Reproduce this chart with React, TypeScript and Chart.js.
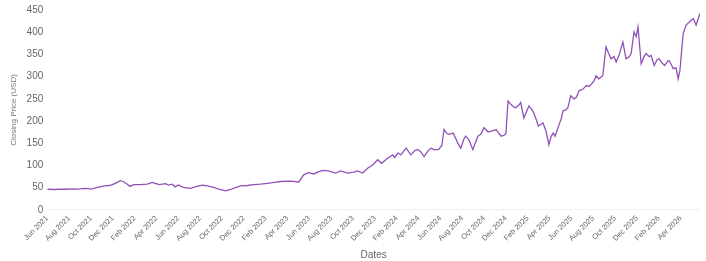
import React, { useEffect, useRef } from "react";
import { Chart, registerables } from "chart.js";

Chart.register(...registerables);

const dates: string[] = [
  "2021-06-01","2021-06-20","2021-07-07","2021-07-23","2021-08-10","2021-08-26","2021-09-13","2021-09-24",
  "2021-10-02","2021-10-19","2021-11-08","2021-11-22","2021-11-30","2021-12-11","2021-12-22","2021-12-30",
  "2022-01-11","2022-01-19","2022-01-30","2022-02-16","2022-03-06","2022-03-20","2022-03-28","2022-04-09",
  "2022-04-26","2022-05-04","2022-05-15","2022-05-23","2022-06-01","2022-06-15","2022-07-04","2022-07-23",
  "2022-08-07","2022-08-21","2022-09-08","2022-09-22","2022-10-11","2022-10-25","2022-11-08","2022-11-22",
  "2022-12-11","2022-12-28","2023-01-17","2023-02-06","2023-02-23","2023-03-12","2023-04-10","2023-05-02",
  "2023-05-16","2023-05-29","2023-06-13","2023-06-27","2023-07-08","2023-07-24","2023-08-14","2023-08-27",
  "2023-09-16","2023-10-03","2023-10-14","2023-10-28","2023-11-11","2023-11-25","2023-12-09","2023-12-20",
  "2024-01-07","2024-01-21","2024-01-26","2024-02-04","2024-02-12","2024-02-26","2024-03-10","2024-03-21",
  "2024-03-29","2024-04-07","2024-04-16","2024-04-27","2024-05-05","2024-05-16","2024-05-27","2024-06-05",
  "2024-06-11","2024-06-19","2024-06-25","2024-07-06","2024-07-14","2024-07-19","2024-07-28","2024-08-06",
  "2024-08-11","2024-08-20","2024-08-31","2024-09-09","2024-09-14","2024-09-22","2024-10-01","2024-10-12",
  "2024-10-20","2024-11-04","2024-11-12","2024-11-18","2024-11-26","2024-12-01","2024-12-07","2024-12-15",
  "2024-12-23","2024-12-29","2025-01-07","2025-01-12","2025-01-21","2025-01-29","2025-02-04","2025-02-10",
  "2025-02-16","2025-02-24","2025-02-28","2025-03-08","2025-03-13","2025-03-22","2025-03-30","2025-04-05",
  "2025-04-11","2025-04-16","2025-04-22","2025-04-27","2025-05-03","2025-05-08","2025-05-16","2025-05-22",
  "2025-05-30","2025-06-08","2025-06-14","2025-06-22","2025-07-03","2025-07-12","2025-07-20","2025-07-26",
  "2025-08-03","2025-08-09","2025-08-17","2025-08-28","2025-09-06","2025-09-12","2025-09-20","2025-09-28",
  "2025-10-04","2025-10-12","2025-10-23","2025-11-01","2025-11-10","2025-11-15","2025-11-23","2025-11-29",
  "2025-12-04","2025-12-13","2025-12-21","2025-12-27","2026-01-05","2026-01-10","2026-01-19","2026-01-27",
  "2026-02-02","2026-02-10","2026-02-16","2026-02-24","2026-02-28","2026-03-05","2026-03-11","2026-03-19",
  "2026-03-25","2026-03-30","2026-04-08","2026-04-16","2026-04-25","2026-04-30","2026-05-06","2026-05-14",
  "2026-05-20","2026-05-25"
];

const closes: number[] = [
  46.5,46,47,46.5,47.5,47,48.5,48,
  47,51,54,55,57,61,66,64,
  58,53,57,57,58,62,60,57,
  59,56,58,52,56,51,48.5,53,
  56,54,51,47,43,46,50,54,
  55,57,58,60,62,64,65,63,
  79,84,81,86,89,88,83,88,
  83,85,88,83,94,101,113,105,
  117,124,118,128,124,139,124,133,
  136,131,120,133,139,135,136,145,
  181,172,170,173,160,151,139,160,
  166,158,136,155,166,170,185,176,
  177,181,172,166,168,172,245,238,
  232,230,236,242,207,222,234,228,
  219,200,189,193,196,177,147,165,
  173,166,180,192,205,223,225,230,
  257,250,253,268,272,280,278,283,
  290,302,295,302,367,355,340,345,
  333,348,378,340,345,352,401,390,
  412,329,345,352,345,348,325,338,
  340,330,325,335,336,328,318,320,
  295,314,397,416,423,427,431,416,
  431,442
];

const tickLabels: string[] = [
  "Jun 2021","Aug 2021","Oct 2021","Dec 2021","Feb 2022","Apr 2022","Jun 2022","Aug 2022",
  "Oct 2022","Dec 2022","Feb 2023","Apr 2023","Jun 2023","Aug 2023","Oct 2023","Dec 2023",
  "Feb 2024","Apr 2024","Jun 2024","Aug 2024","Oct 2024","Dec 2024","Feb 2025","Apr 2025",
  "Jun 2025","Aug 2025","Oct 2025","Dec 2025","Feb 2026","Apr 2026"
];

const yTicks: number[] = [0, 50, 100, 150, 200, 250, 300, 350, 400, 450];

function monthOffset(d: string): number {
  const [y, m, dd] = d.split("-").map(Number);
  const dim = new Date(y, m, 0).getDate();
  return (y - 2021) * 12 + (m - 6) + (dd - 1) / dim;
}

const FONT = "'Liberation Sans', Arial, sans-serif";

export default function App() {
  const ref = useRef<HTMLCanvasElement | null>(null);
  useEffect(() => {
    document.body.style.margin = "0";
    const points = dates.map((d, i) => ({ x: monthOffset(d), y: closes[i] }));
    const lastX = points[points.length - 1].x;
    const chart = new Chart(ref.current as HTMLCanvasElement, {
      type: "line",
      data: {
        datasets: [
          {
            data: points,
            borderColor: "#9152b8",
            borderWidth: 1.3,
            pointRadius: 0,
            tension: 0,
            fill: false,
          },
        ],
      },
      options: {
        responsive: false,
        animation: false,
        layout: { padding: { top: 6, right: 6, left: 9, bottom: 0 } },
        plugins: { legend: { display: false }, tooltip: { enabled: false } },
        scales: {
          x: {
            type: "linear",
            min: 0,
            max: lastX,
            grid: { display: false, drawTicks: false },
            border: { display: true, color: "#f0f0f0" },
            afterBuildTicks: (scale: any) => {
              scale.ticks = tickLabels.map((_, i) => ({ value: i * 2 }));
            },
            ticks: {
              autoSkip: false,
              maxRotation: 45,
              minRotation: 45,
              color: "#666",
              font: { family: FONT, size: 7.5 },
              padding: 4,
              callback: (v: any) => tickLabels[Math.round(Number(v) / 2)] ?? "",
            },
            title: {
              display: true,
              text: "Dates",
              color: "#666",
              font: { family: FONT, size: 10 },
              padding: { top: 2, bottom: 0 },
            },
          },
          y: {
            type: "linear",
            min: 0,
            max: 450,
            grid: { display: false, drawTicks: false },
            border: { display: false },
            afterBuildTicks: (scale: any) => {
              scale.ticks = yTicks.map((v) => ({ value: v }));
            },
            ticks: {
              color: "#666",
              font: { family: FONT, size: 10 },
              padding: 4,
            },
            title: {
              display: true,
              text: "Closing Price (USD)",
              color: "#777",
              font: { family: FONT, size: 8 },
              padding: { top: 0, bottom: 4 },
            },
          },
        },
      },
    } as any);
    return () => chart.destroy();
  }, []);
  return (
    <div style={{ width: 706, height: 261 }}>
      <canvas ref={ref} width={706} height={261} style={{ display: "block" }} />
    </div>
  );
}
